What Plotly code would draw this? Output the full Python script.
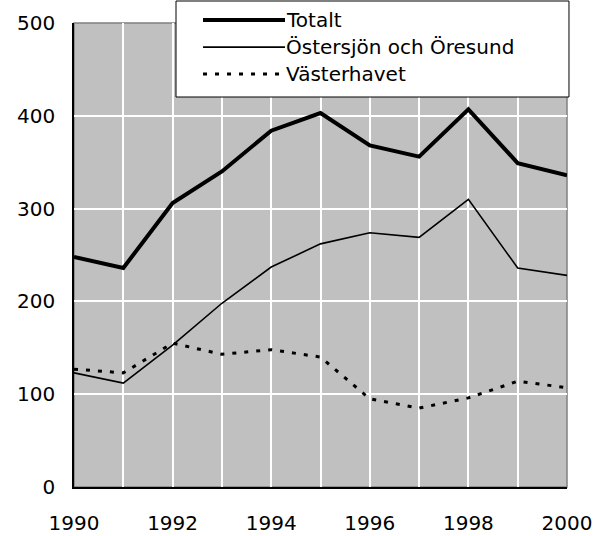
import plotly.graph_objects as go

years = [1990, 1991, 1992, 1993, 1994, 1995, 1996, 1997, 1998, 1999, 2000]
totalt = [248, 236, 306, 340, 384, 403, 368, 356, 407, 349, 336]
ostersjon = [123, 112, 153, 198, 237, 262, 274, 269, 310, 236, 228]
vasterhavet = [127, 123, 155, 143, 148, 140, 95, 85, 96, 114, 107]

names = ["Totalt", "Östersjön och Öresund", "Västerhavet"]
series = [totalt, ostersjon, vasterhavet]
widths = [4, 1.6, 3]
dashes = ["solid", "solid", "4px,8px"]

FONT = "DejaVu Sans"

fig = go.Figure()
for n, s, w, d in zip(names, series, widths, dashes):
    fig.add_trace(go.Scatter(x=years, y=s, mode="lines", name=n,
                             line=dict(color="black", width=w, dash=d),
                             showlegend=False, hoverinfo="skip"))

# plot border (top/right grey)
shapes = [dict(type="rect", xref="paper", yref="paper", x0=0, x1=1, y0=0, y1=1,
               line=dict(color="#808080", width=1.5), layer="between")]

# manual legend
lx0, lx1, ly0, ly1 = 0.2069, 1.004, 0.8405, 1.0474
shapes.append(dict(type="rect", xref="paper", yref="paper", x0=lx0, x1=lx1, y0=ly0, y1=ly1,
                   line=dict(color="black", width=1), fillcolor="white", layer="above"))
rows = [1.0065, 0.948, 0.890]
annotations = []
for n, w, d, ry in zip(names, widths, dashes, rows):
    shapes.append(dict(type="line", xref="paper", yref="paper", x0=0.2617, x1=0.428,
                       y0=ry, y1=ry, line=dict(color="black", width=w, dash=d), layer="above"))
    annotations.append(dict(xref="paper", yref="paper", x=0.426, y=ry, text=n,
                            showarrow=False, xanchor="left", yanchor="middle",
                            font=dict(family=FONT, size=20, color="black")))

fig.update_layout(
    width=602, height=536,
    margin=dict(l=74, r=35, t=23, b=49, autoexpand=False),
    paper_bgcolor="white", plot_bgcolor="#c0c0c0",
    font=dict(family=FONT, size=20, color="black"),
    shapes=shapes, annotations=annotations,
    showlegend=False,
)
fig.update_xaxes(range=[1990, 2000], dtick=2, tick0=1990, showgrid=True,
                 gridcolor="white", gridwidth=1.5,
                 minor=dict(dtick=1, showgrid=True, gridcolor="white", gridwidth=1.5),
                 showline=True, linecolor="black", linewidth=1.5, ticks="",
                 ticklabelstandoff=17, zeroline=False, automargin=False)
fig.update_yaxes(range=[0, 500], dtick=100, showgrid=True, gridcolor="white", gridwidth=1.5,
                 showline=True, linecolor="black", linewidth=1.5, ticks="",
                 ticklabelstandoff=13, zeroline=False, automargin=False)

fig.write_html("out.html", config={"displayModeBar": False},
               post_script="document.body.style.margin='0';")
